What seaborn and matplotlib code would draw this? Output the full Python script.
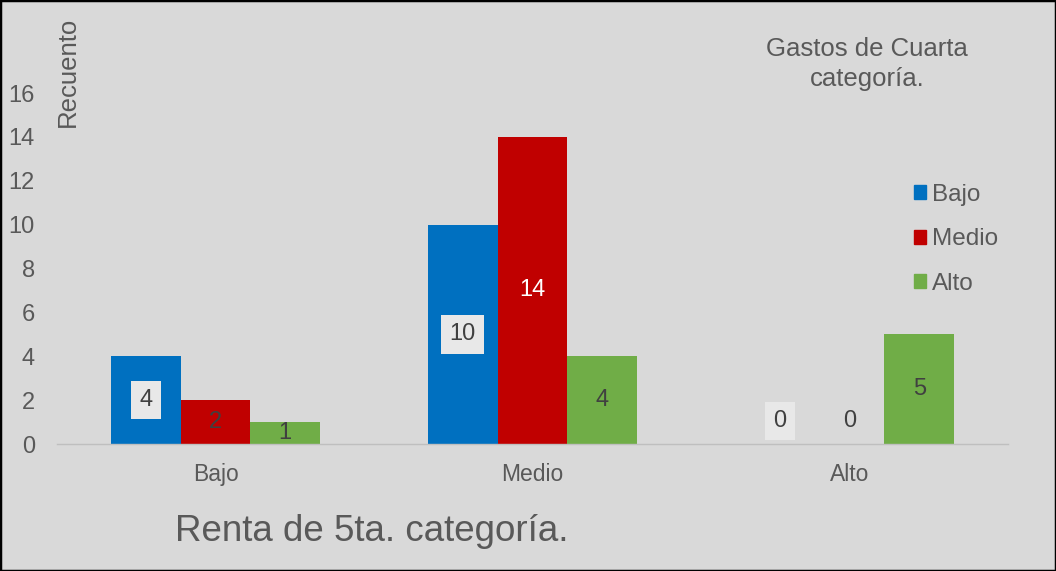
import seaborn as sns
import pandas as pd
import matplotlib.pyplot as plt
from matplotlib.patches import Rectangle

# data
renta = ['Bajo', 'Medio', 'Alto']          # x categories (Renta de 5ta)
gastos = ['Bajo', 'Medio', 'Alto']         # hue (Gastos de Cuarta)
vals_bajo = [4, 10, 0]
vals_medio = [2, 14, 0]
vals_alto = [1, 4, 5]
yticks = [0, 2, 4, 6, 8, 10, 12, 14, 16]

colors = ['#0070c0', '#c00000', '#70ad47']
bg = '#d9d9d9'
txt = '#595959'

rows = []
for g, vals in zip(gastos, [vals_bajo, vals_medio, vals_alto]):
    for r, v in zip(renta, vals):
        rows.append({'Renta': r, 'Gastos': g, 'Recuento': v})
df = pd.DataFrame(rows)

sns.set_style('white')
plt.rcParams['font.family'] = ['Liberation Sans', 'DejaVu Sans']

fig = plt.figure(figsize=(10.56, 5.71), dpi=100, facecolor=bg)
ax = fig.add_axes([0.054, 0.2224, 0.9006, 0.6146])
ax.set_facecolor(bg)

sns.barplot(data=df, x='Renta', y='Recuento', hue='Gastos', order=renta,
            hue_order=gastos, palette=colors, width=0.66, linewidth=0,
            saturation=1, ax=ax)

ax.set_ylim(0, 16)
ax.set_yticks(yticks)
for s in ['top', 'right', 'left']:
    ax.spines[s].set_visible(False)
ax.spines['bottom'].set_color('#bfbfbf')
ax.spines['bottom'].set_linewidth(1)
ax.tick_params(axis='y', length=0, pad=16, labelsize=17, labelcolor=txt)
ax.tick_params(axis='x', length=0, pad=14, labelsize=16.5, labelcolor=txt)
ax.set_xlabel('')
ax.set_ylabel('')

# data labels
lab_colors = [['#404040'] * 3, ['#404040', 'white', '#404040'], ['#404040'] * 3]
lab_box = [True, False, False]
for i, cont in enumerate(ax.containers):
    for j, bar in enumerate(cont):
        v = int(bar.get_height())
        xc = bar.get_x() + bar.get_width() / 2
        yc = v / 2 if v > 0 else 1.05
        kw = {}
        if lab_box[i]:
            kw['bbox'] = dict(boxstyle='square,pad=0.35', fc='#e8e8e8', ec='none')
        ax.text(xc, yc, str(v), ha='center', va='center', fontsize=17,
                color=lab_colors[i][j], **kw)

ax.legend_.remove()
handles = [Rectangle((0, 0), 1, 1, color=c) for c in colors]
fig.legend(handles, gastos, loc='upper left', bbox_to_anchor=(0.845, 0.716),
           frameon=False, fontsize=17.5, labelcolor=txt, handlelength=0.5,
           handleheight=0.5, handletextpad=0.25, labelspacing=0.92)

fig.text(0.821, 0.888, 'Gastos de Cuarta\ncategoría.', ha='center', va='center',
         fontsize=18.5, color=txt, linespacing=1.35)
fig.text(0.064, 0.874, 'Recuento', rotation=90, ha='center', va='center',
         fontsize=18.5, color=txt)
fig.text(0.352, 0.07, 'Renta de 5ta. categoría.', ha='center', va='center',
         fontsize=26.5, color=txt)

fig.patches.append(Rectangle((0, 0), 1, 1, transform=fig.transFigure, fill=False,
                             ec='black', lw=2.5))

fig.savefig('out.png', dpi=100, facecolor=bg)
